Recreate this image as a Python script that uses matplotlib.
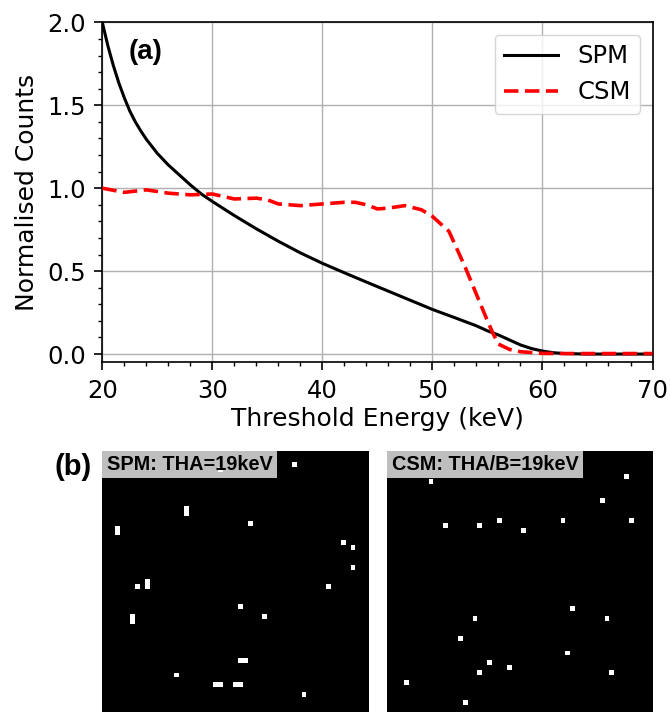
import matplotlib
matplotlib.use("Agg")
import matplotlib.pyplot as plt
import numpy as np
from matplotlib.ticker import MultipleLocator, FormatStrFormatter

# ---------------- data ----------------
energy_spm = [20, 20.5, 21, 21.5, 22, 22.5, 23, 23.5, 24, 25, 26, 27, 28, 29, 30, 32, 34, 36, 38, 40,
              42, 44, 46, 48, 50, 52, 54, 55, 56, 57, 58, 59, 60, 61, 62, 64, 66, 68, 70]
counts_spm = [2.00, 1.86, 1.74, 1.635, 1.545, 1.465, 1.40, 1.345, 1.295, 1.21, 1.14, 1.08, 1.02,
              0.965, 0.92, 0.835, 0.755, 0.68, 0.61, 0.547, 0.49, 0.434, 0.379, 0.324, 0.269,
              0.22, 0.17, 0.14, 0.115, 0.085, 0.055, 0.033, 0.018, 0.008, 0.003, 0.0, 0.0, 0.0, 0.0]

energy_csm = [20, 22, 24, 26, 28, 30, 32, 34, 35, 36, 38, 40, 42, 43, 44, 45, 46, 47.5, 49,
              50, 51.5, 52, 53, 54, 55, 55.5, 56, 57, 58, 60, 62, 64, 66, 68, 70]
counts_csm = [1.0, 0.975, 0.99, 0.97, 0.96, 0.965, 0.935, 0.94, 0.93, 0.905, 0.895, 0.905,
              0.915, 0.915, 0.90, 0.875, 0.88, 0.895, 0.87, 0.83, 0.74, 0.667, 0.52, 0.36,
              0.2, 0.125, 0.06, 0.028, 0.014, 0.004, 0.003, 0.003, 0.003, 0.003, 0.003]

series_labels = ["SPM", "CSM"]
x_ticks = [20, 30, 40, 50, 60, 70]
y_ticks = [0.0, 0.5, 1.0, 1.5, 2.0]

# hit pixels (row, col) in the two frames
spm_rows = [2, 3, 11, 12, 14, 15, 16, 18, 19, 23, 27, 27, 26, 27, 31, 33, 34, 33, 42, 42, 45, 47, 47, 47, 47, 49]
spm_cols = [39, 24, 17, 17, 30, 3, 3, 49, 51, 51, 46, 7, 9, 9, 28, 6, 6, 33, 28, 29, 15, 23, 24, 27, 28, 41]
csm_rows = [6, 5, 10, 15, 15, 14, 16, 14, 14, 32, 34, 34, 38, 41, 43, 44, 45, 45, 47, 51]
csm_cols = [9, 49, 44, 12, 19, 23, 28, 36, 50, 38, 18, 45, 15, 37, 21, 25, 19, 46, 4, 16]
frame_titles = ["SPM: THA=19keV", "CSM: THA/B=19keV"]
frame_size = 56

# ---------------- figure ----------------
fig = plt.figure(figsize=(6.7, 7.12), dpi=100)

ax = fig.add_axes([0.1527, 0.4911, 0.8212, 0.4775])
ax.plot(energy_spm, counts_spm, color="black", lw=2.2, label=series_labels[0], zorder=3)
ax.plot(energy_csm, counts_csm, color="red", lw=2.6, ls=(0, (4.0, 1.8)),
        label=series_labels[1], zorder=4)
ax.set_xlim(20, 70)
ax.set_ylim(-0.05, 2.0)
ax.set_xticks(x_ticks)
ax.set_yticks(y_ticks)
ax.yaxis.set_major_formatter(FormatStrFormatter("%.1f"))
ax.xaxis.set_minor_locator(MultipleLocator(2))
ax.yaxis.set_minor_locator(MultipleLocator(0.1))
ax.grid(True, which="major", color="#b0b0b0", lw=1.0)
ax.tick_params(which="major", direction="out", length=6, width=1.2, labelsize=17.5, pad=6)
ax.tick_params(which="minor", direction="out", length=3, width=1.0)
for s in ax.spines.values():
    s.set_linewidth(1.2)
ax.set_xlabel("Threshold Energy (keV)", fontsize=18, labelpad=3)
ax.set_ylabel("Normalised Counts", fontsize=18, labelpad=6)
ax.legend(loc="upper right", fontsize=17.5, handlelength=2.2)
ax.text(0.0794, 0.9126, "(a)", transform=ax.transAxes, ha="center", va="center",
        fontsize=20, fontweight="bold", family="Liberation Sans")

fig.text(0.109, 0.3434, "(b)", ha="center", va="center", fontsize=21,
         fontweight="bold", family="Liberation Sans")

frames = [(spm_rows, spm_cols), (csm_rows, csm_cols)]
positions = [[0.1527, 0.0, 0.3976, 0.367], [0.578, 0.0, 0.397, 0.367]]
limits = [((-0.2, 54.26), (52.54, -0.9)), ((0.0, 54.4), (53.02, -0.35))]
for (rows, cols), pos, (xl, yl), title in zip(frames, positions, limits, frame_titles):
    img = np.zeros((frame_size, frame_size))
    img[rows, cols] = 1.0
    a = fig.add_axes(pos)
    a.set_facecolor("black")
    a.imshow(img, cmap="gray", vmin=0, vmax=1, interpolation="nearest", aspect="auto")
    a.set_xlim(*xl)
    a.set_ylim(*yl)
    a.set_xticks([])
    a.set_yticks([])
    for s in a.spines.values():
        s.set_visible(False)
    fs = 14.3
    pad = 0.22
    a.annotate(title, xy=(0, 1), xycoords="axes fraction",
               xytext=(pad * fs, -pad * fs), textcoords="offset points",
               ha="left", va="top", fontsize=fs, fontweight="bold",
               family="Liberation Sans", color="black",
               bbox=dict(boxstyle=f"square,pad={pad}", fc="white", alpha=0.75, ec="none"))

fig.savefig("out.png", dpi=100)
